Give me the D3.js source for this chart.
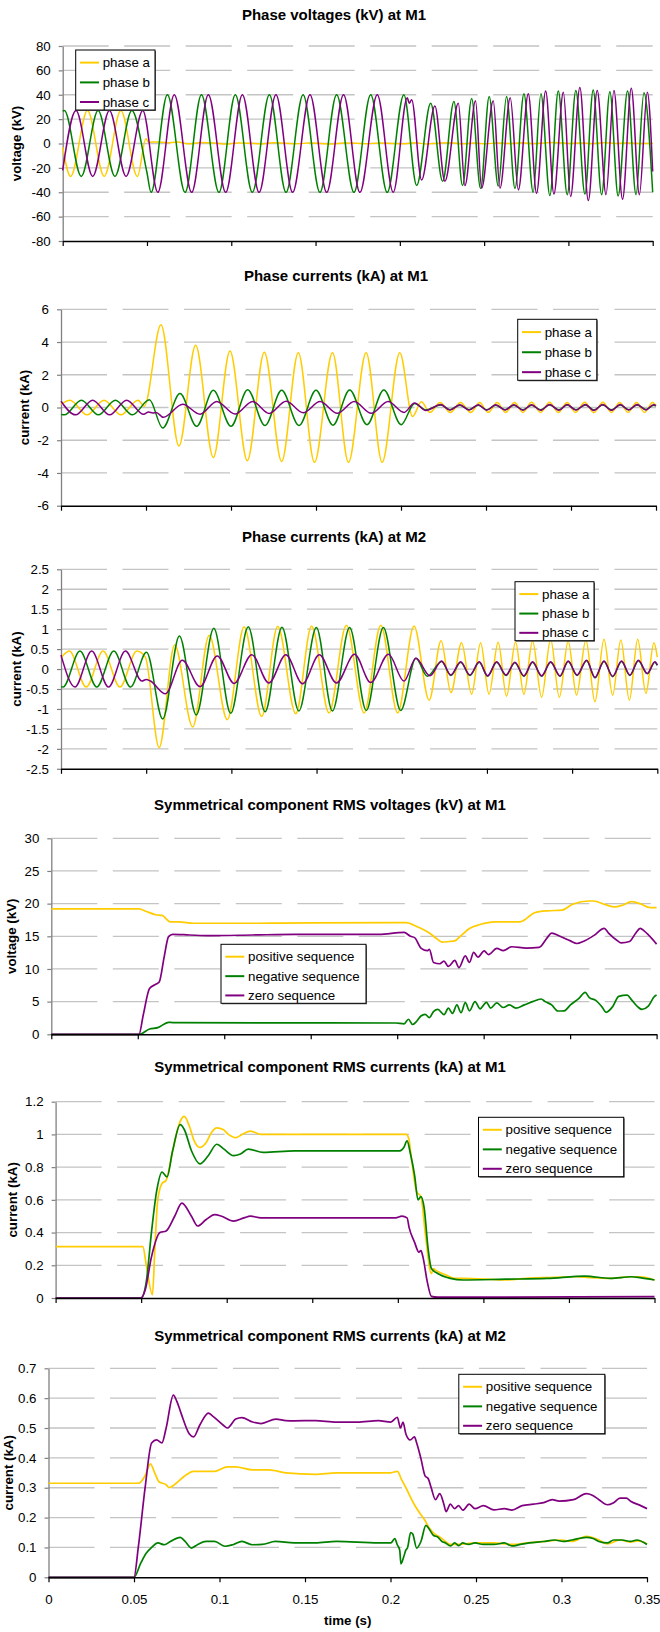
<!DOCTYPE html>
<html><head><meta charset="utf-8">
<script src="https://cdn.jsdelivr.net/npm/d3@7"></script>
<style>
html,body{margin:0;padding:0;background:#fff;}
svg{display:block;font-family:"Liberation Sans",Arial,Helvetica,sans-serif;}
</style></head><body>
<svg id="chart" width="660" height="1632"></svg>
<script>
// ---------- DATA (time in ms, values in kV / kA) ----------
const timeTicks = [0, 0.05, 0.1, 0.15, 0.2, 0.25, 0.3, 0.35];
const timeTickLabels = ["0", "0.05", "0.1", "0.15", "0.2", "0.25", "0.3", "0.35"];

const panelTitles = [
  "Phase voltages (kV) at M1",
  "Phase currents (kA) at M1",
  "Phase currents (kA) at M2",
  "Symmetrical component RMS voltages (kV) at M1",
  "Symmetrical component RMS currents (kA) at M1",
  "Symmetrical component RMS currents (kA) at M2"
];
const yAxisTitles = ["voltage (kV)", "current (kA)", "current (kA)", "voltage (kV)", "current (kA)", "current (kA)"];
const phaseNames = ["phase a", "phase b", "phase c"];
const seqNames = ["positive sequence", "negative sequence", "zero sequence"];

const yTicks1 = [-80, -60, -40, -20, 0, 20, 40, 60, 80];
const yTicks2 = [-6, -4, -2, 0, 2, 4, 6];
const yTicks3 = [-2.5, -2, -1.5, -1, -0.5, 0, 0.5, 1, 1.5, 2, 2.5];
const yTicks4 = [0, 5, 10, 15, 20, 25, 30];
const yTicks5 = [0, 0.2, 0.4, 0.6, 0.8, 1, 1.2];
const yTicks6 = [0, 0.1, 0.2, 0.3, 0.4, 0.5, 0.6, 0.7];

// Panel 1: phase voltages at M1 (extremes of each half cycle)
const p1PhaseA = [[0,-3],[4.7,-27],[14.7,27],[24.6,-27],[34.5,27],[44.3,-27],[49.4,4],[51,1],[56,1.3],[62,0.6],[68,1.2],[75,-0.3],[82,0.8],[90,0.4],[97,-0.5],[104,0.5],[111,0.2],[118,-0.4],[125,0.7],[132,0.2],[139,-0.3],[146,0.5],[153,0.1],[160,-0.4],[167,0.4],[174,0.2],[181,-0.3],[188,0.5],[195,0.1],[202,-0.3],[209,0.6],[216,-0.4],[223,0.3],[230,0.7],[237,-0.2],[244,0.4],[251,-0.3],[258,0.5],[265,0],[272,0.6],[279,-0.2],[286,0.4],[293,0.8],[300,0],[307,0.5],[314,-0.2],[321,0.6],[328,0.1],[335,0.5],[342,-0.1],[350,0.2]];
const p1PhaseB = [[0,26.5],[1,27],[11,-27],[21,27],[31,-27],[41,27],[50,-24],[52.4,-40],[62.1,40],[72.6,-40],[82.3,40],[92.7,-40],[102.4,40],[112.5,-40],[122.6,40],[132.5,-40],[142.6,40],[152.6,-40],[162.5,40],[172.8,-40],[182.7,40],[192.5,-40],[202.4,40],[210,-34.5],[218.3,33],[225.4,-31],[232.1,34.5],[237.2,-34.5],[242.6,37],[247.9,-37],[253,38.6],[258.4,-35],[263.3,38.6],[268.3,-37],[273.6,40.8],[279.1,-40],[283.7,40.8],[289,-42.7],[294,43],[299.3,-42],[304.4,43.5],[309.8,-41.5],[314.7,44],[319.7,-42],[324.6,42.5],[329.5,-43],[335.1,43],[340.1,-42],[344.8,41.6],[350,-40]];
const p1PhaseC = [[0,-22],[7.9,27],[17.8,-27],[27.7,27],[37.6,-27],[47.5,27],[56.4,-40],[66.2,40],[76.5,-40],[86.4,40],[96.7,-40],[106.6,40],[116.5,-40],[126.5,40],[136.4,-40],[146.7,40],[156.6,-40],[166.6,40],[176.3,-40],[186.6,40],[196.1,-40],[204.4,37.5],[205.6,33],[207,36],[212.9,-30],[220.8,30.7],[226.7,-31],[234.7,33],[238.6,-34.5],[244.9,35],[248.5,-36.7],[255.4,35],[259.4,-36.7],[265.5,37.5],[270.3,-38],[276.2,40.8],[281.1,-40.8],[286.5,43],[291.4,-41.4],[297,42],[301.3,-43.5],[306.8,46],[311.8,-46.8],[317.1,43.5],[322.3,-42],[327,43.5],[332.1,-45.7],[337.3,45.4],[342.1,-42],[346.8,42],[350,-23]];

// Panel 2: phase currents at M1
const p2PhaseA = [[0,0.2],[5.3,0.45],[15.3,-0.45],[25.3,0.45],[35.3,-0.45],[45.3,0.45],[49,0.08],[58.8,5.05],[69.4,-2.35],[79.2,3.8],[89.6,-3.05],[99.4,3.45],[109.6,-3.25],[119.6,3.38],[129.8,-3.3],[139.6,3.35],[149.1,-3.35],[159.7,3.35],[169.1,-3.35],[179.5,3.35],[188.9,-3.35],[199.3,3.35],[206.8,-0.55],[212,0.35],[217,-0.3],[223,0.3],[229,-0.3],[235,0.3],[241,-0.3],[246.3,0.3],[251.2,-0.3],[256.6,0.3],[261.5,-0.3],[266.8,0.3],[271.7,-0.3],[276.8,0.32],[282.1,-0.3],[287.4,0.32],[292.5,-0.3],[297.7,0.3],[302.6,-0.3],[308.1,0.32],[313.4,-0.32],[318.7,0.32],[323.8,-0.3],[328.6,0.3],[333.6,-0.3],[338.5,0.3],[343.3,-0.3],[348,0.3],[350,0.1]];
const p2PhaseB = [[0,-0.42],[2,-0.45],[12,0.45],[22,-0.45],[32,0.45],[42,-0.45],[52,0.47],[59.8,-1.25],[70,0.85],[79.8,-1.15],[89.6,1.05],[100,-1.15],[109.8,1.08],[120,-1.1],[129.8,1.05],[140,-1.1],[150,1.05],[160,-1.08],[169.8,1.07],[180,-1.05],[189.9,1.07],[200.1,-1.05],[208,0.25],[214.6,-0.15],[223.4,0.15],[228.8,-0.13],[234.6,0.14],[240,-0.13],[245.5,0.14],[250.4,-0.14],[255.7,0.14],[261.2,-0.13],[266.4,0.14],[271.7,-0.14],[276.8,0.14],[282.1,-0.14],[287.4,0.15],[292.9,-0.14],[297.7,0.15],[302.9,-0.13],[308.5,0.16],[313.4,-0.15],[318.7,0.15],[323.8,-0.14],[329,0.15],[333.9,-0.13],[338.9,0.16],[344.1,-0.12],[348.6,0.14],[350,0.1]];
const p2PhaseC = [[0,0.38],[8.6,-0.45],[18.6,0.45],[28.6,-0.45],[38.6,0.45],[48.6,-0.42],[51.5,-0.28],[54,-0.33],[56,-0.3],[60.2,-0.6],[71.6,0.2],[81.8,-0.41],[91.6,0.37],[102.4,-0.4],[112.7,0.37],[122.5,-0.36],[132.4,0.38],[142.5,-0.32],[152.4,0.36],[162.5,-0.35],[172.5,0.36],[182.5,-0.35],[192.4,0.36],[201.8,-0.3],[208,0.28],[214.6,-0.18],[223.4,0.18],[228.8,-0.16],[234.6,0.17],[240,-0.16],[245.5,0.17],[250.4,-0.17],[255.7,0.17],[261.2,-0.16],[266.4,0.17],[271.7,-0.17],[276.8,0.17],[282.1,-0.17],[287.4,0.18],[292.9,-0.17],[297.7,0.18],[302.9,-0.16],[308.5,0.19],[313.4,-0.18],[318.7,0.18],[323.8,-0.17],[329,0.18],[333.9,-0.16],[338.9,0.19],[344.1,-0.15],[348.6,0.17],[350,0.12]];

// Panel 3: phase currents at M2
const p3PhaseA = [[0,0.28],[4.9,0.45],[14.8,-0.45],[24.7,0.45],[34.6,-0.45],[44.5,0.45],[49.5,0.3],[57.6,-1.97],[66.7,0.6],[77.3,-1.45],[87,0.85],[97.6,-1.27],[107.5,1.06],[117.8,-1.19],[127.2,1.07],[137.8,-1.12],[147.1,1.08],[157.3,-1.1],[167.5,1.1],[177.9,-1.1],[187.7,1.1],[197.6,-1.1],[207.2,1.08],[216.1,-0.78],[223.1,0.71],[228.9,-0.59],[235.1,0.66],[241,-0.63],[246.3,0.66],[251.2,-0.63],[256.6,0.67],[261.5,-0.68],[266.8,0.68],[271.7,-0.63],[276.8,0.7],[282.1,-0.71],[287.4,0.75],[292.5,-0.71],[297.7,0.7],[302.6,-0.65],[308.1,0.73],[313.4,-0.82],[318.7,0.75],[323.8,-0.65],[328.6,0.73],[333.6,-0.78],[338.5,0.75],[343.3,-0.61],[348,0.66],[350,0.3]];
const p3PhaseB = [[0,-0.44],[1.2,-0.45],[11.1,0.45],[21,-0.45],[31,0.45],[40.8,-0.45],[50.2,0.42],[59.7,-1.25],[69.5,0.83],[79.4,-1.15],[89.7,1.02],[99.6,-1.11],[109.9,1.06],[119.8,-1.07],[129.7,1.05],[139.6,-1.05],[149.9,1.04],[159.3,-1.05],[169.4,1.04],[179.2,-1.04],[189.2,1.04],[199.4,-1.04],[208.3,0.27],[215,-0.18],[223.4,0.19],[228.8,-0.16],[234.6,0.17],[240,-0.16],[245.5,0.17],[250.4,-0.18],[255.7,0.17],[261.2,-0.16],[266.4,0.16],[271.7,-0.18],[276.8,0.17],[282.1,-0.18],[287.4,0.17],[292.9,-0.18],[297.7,0.19],[302.9,-0.16],[308.5,0.21],[313.4,-0.22],[318.7,0.19],[323.8,-0.19],[329,0.19],[333.9,-0.16],[338.9,0.21],[344.1,-0.12],[348.6,0.17],[350,0.09]];
const p3PhaseC = [[0,0.35],[8.2,-0.45],[18,0.45],[27.9,-0.45],[37.8,0.45],[47.5,-0.3],[50,-0.26],[52.5,-0.3],[61.3,-0.62],[71.2,0.22],[81.6,-0.44],[91.7,0.33],[101.6,-0.36],[112,0.36],[122,-0.35],[132,0.36],[141.8,-0.37],[151.6,0.36],[161.7,-0.35],[172.3,0.37],[181.8,-0.34],[192.2,0.37],[201.3,-0.3],[208.3,0.27],[216.6,-0.17],[223.4,0.2],[228.8,-0.15],[234.6,0.18],[240,-0.15],[245.5,0.18],[250.4,-0.17],[255.7,0.18],[261.2,-0.15],[266.4,0.17],[271.7,-0.17],[276.8,0.18],[282.1,-0.17],[287.4,0.18],[292.9,-0.17],[297.7,0.2],[302.9,-0.15],[308.5,0.22],[313.4,-0.21],[318.7,0.2],[323.8,-0.18],[329,0.2],[333.9,-0.15],[338.9,0.22],[344.1,-0.11],[348.6,0.18],[350,0.1]];

// Panel 4: symmetrical component RMS voltages at M1
const p4Pos = [[0,19.2],[50.7,19.2],[55,18.8],[60.4,18.3],[64,18.2],[68.9,17.2],[73.8,17.2],[82.3,17],[120,17],[150,17.05],[200.4,17.1],[205.3,17.1],[211.3,16.5],[218.6,15.5],[223.5,14.5],[226,14.1],[230,14.2],[233.3,14.3],[236.9,15.1],[241.8,16.2],[247.9,16.8],[256.4,17.2],[271,17.2],[279.5,18.6],[286.8,18.9],[295.3,19],[301.4,19.9],[311.1,20.4],[313.5,20.4],[320.8,19.8],[325.7,19.5],[330.6,19.8],[335.4,20.3],[340.3,20],[346.4,19.4],[350,19.4]];
const p4Neg = [[0,0],[51,0],[56.8,0.82],[61.6,1.02],[67.8,1.84],[70.2,1.8],[120,1.75],[199.2,1.73],[204,1.6],[206.5,2.3],[208.9,1.5],[211.3,2],[213.7,2.8],[216.2,3.06],[218.6,2.55],[221,3.47],[223.5,3.8],[227.1,3],[229.6,4],[232,3.2],[234.5,4.5],[236.9,3.3],[239.4,4.85],[241.8,3.6],[245,5],[247.9,3.9],[251.6,4.9],[254,4],[257.6,4.8],[261.3,4.1],[264.9,4.5],[268.6,4],[273.5,4.5],[278.3,5],[283.2,5.4],[285.6,5],[289.3,4.5],[292.9,3.57],[296.6,3.6],[300.2,4.5],[305.1,5.5],[308.7,6.43],[311.1,5.6],[314.8,5.2],[318.4,4.2],[320.8,3.37],[324.5,4.2],[328.1,5.8],[333,6],[335.4,5.3],[339.1,4.2],[341.5,3.8],[345.2,4.3],[348.8,5.8],[350,6]];
const p4Zero = [[0,0],[50.7,0],[53.2,3],[56.8,7],[60.4,7.65],[62.4,8],[65.3,11.9],[67.8,14.95],[70.2,15.3],[79.9,15.2],[92.1,15.1],[116.4,15.2],[140.7,15.3],[189.4,15.3],[204,15.6],[207.7,15],[210.1,14.8],[213.7,13.2],[217.4,12.8],[218.6,13],[221,11],[224.7,10.8],[227,11.2],[229.6,10.4],[233.3,11.3],[235.7,10.2],[239.4,12],[241.8,11],[244.2,12.55],[246.7,11.8],[250.3,12.76],[252.8,12.2],[257.6,13.16],[261.3,12.8],[266.2,13.4],[274.7,13.2],[282,13.3],[286.8,14.8],[289.3,15.5],[294.1,15],[300.2,14.3],[303.9,13.9],[307.5,14.2],[313.6,15.1],[319.7,16.2],[322.2,15.5],[327,14.4],[329.5,14],[334.3,14.2],[338,15.5],[340.5,16.2],[342.9,15.8],[347.8,14.5],[350,13.8]];

// Panel 5: symmetrical component RMS currents at M1
const p5Pos = [[0,0.314],[51,0.314],[53,0.2],[56.6,0.02],[58,0.3],[59.7,0.6],[62.2,0.7],[64.6,0.72],[68.4,0.9],[72.8,1.08],[75.2,1.11],[78.2,1.05],[81,0.96],[84.3,0.92],[88,0.95],[91,1.01],[94.2,1.04],[97.9,1.03],[101,1],[105.2,0.98],[109,1],[113.9,1.02],[120,1],[150,1],[180,1],[200,1],[204.9,1],[206.5,0.97],[207.4,0.9],[211,0.65],[213.5,0.62],[216,0.4],[219.6,0.15],[220.9,0.18],[222.1,0.17],[228.2,0.14],[233.2,0.12],[238.1,0.12],[262.7,0.11],[275,0.12],[287.3,0.125],[304.5,0.13],[311.9,0.125],[324.2,0.12],[335.3,0.13],[341.5,0.13],[350,0.11]];
const p5Neg = [[0,0],[49.9,0],[53,0.1],[56,0.4],[59,0.65],[62.2,0.77],[65.1,0.74],[68.4,0.9],[72.8,1.06],[75.2,1.03],[79.4,0.9],[84.3,0.82],[89.2,0.87],[94.2,0.94],[98.4,0.91],[104,0.87],[108,0.88],[112.6,0.91],[121.3,0.89],[139.7,0.9],[170,0.9],[201.2,0.9],[203.5,0.92],[205.4,0.96],[207.4,0.88],[209.8,0.75],[211.8,0.6],[213.5,0.62],[215.4,0.55],[217.7,0.3],[219.6,0.18],[223.3,0.15],[230.7,0.12],[238.1,0.11],[262.7,0.115],[287.3,0.12],[309.4,0.134],[324.2,0.12],[336.5,0.13],[341.5,0.125],[350,0.11]];
const p5Zero = [[0,0],[49.9,0],[52.4,0.05],[56,0.25],[61,0.4],[64.6,0.41],[69.6,0.5],[73.8,0.58],[79.4,0.5],[83,0.44],[88,0.48],[93,0.51],[97,0.5],[104,0.47],[110.1,0.49],[113.9,0.5],[120,0.49],[139.7,0.49],[198.7,0.49],[202.4,0.5],[205.4,0.49],[206.6,0.43],[209.8,0.34],[212.3,0.28],[213.5,0.29],[214.7,0.25],[217.2,0.1],[219.6,0.01],[223.3,0.005],[350,0.008]];

// Panel 6: symmetrical component RMS currents at M2
const p6Pos = [[0,0.315],[52.7,0.315],[56.5,0.34],[59.6,0.38],[62.1,0.35],[64.6,0.32],[68.8,0.31],[70.5,0.3],[73.6,0.31],[79.8,0.34],[84.8,0.355],[97.3,0.355],[104.6,0.37],[109.5,0.37],[119.4,0.36],[129,0.36],[138.7,0.35],[156,0.345],[168.3,0.35],[192.9,0.35],[200.2,0.35],[204,0.355],[206.5,0.327],[209,0.3],[214,0.243],[217.7,0.21],[220.2,0.19],[222.7,0.165],[226.3,0.143],[228.8,0.135],[232.2,0.12],[235,0.11],[240,0.11],[250,0.115],[260,0.115],[271,0.11],[280,0.115],[290,0.12],[300,0.125],[306,0.12],[314.5,0.137],[321.9,0.125],[326.8,0.112],[334.2,0.125],[340,0.118],[345,0.122],[350,0.112]];
const p6Neg = [[0,0],[50,0],[54,0.048],[57,0.08],[60.3,0.1],[64,0.115],[67.7,0.109],[71.3,0.12],[77,0.134],[79.9,0.12],[83.6,0.098],[87.3,0.11],[92.2,0.12],[97.1,0.12],[103.3,0.104],[108.2,0.11],[113.1,0.12],[119.3,0.109],[125,0.11],[132.7,0.12],[143.7,0.115],[156,0.115],[168.3,0.12],[192.9,0.115],[200.2,0.115],[202.5,0.13],[203.9,0.11],[205.4,0.09],[206.1,0.045],[207.8,0.07],[208.9,0.09],[210,0.1],[211.8,0.15],[213,0.145],[215.3,0.098],[217.8,0.12],[220.7,0.174],[222.2,0.165],[225.2,0.14],[227.6,0.135],[230.1,0.12],[232.2,0.115],[235.1,0.105],[237.5,0.115],[240,0.106],[242.1,0.115],[245.7,0.11],[249.4,0.115],[254.3,0.11],[260.5,0.11],[266.6,0.115],[271,0.105],[276,0.11],[281,0.115],[289.6,0.12],[296,0.125],[301,0.12],[306,0.125],[314.5,0.134],[318.5,0.13],[321.9,0.12],[326.8,0.115],[330.5,0.125],[335.4,0.125],[340.4,0.12],[344,0.125],[350,0.11]];
const p6Zero = [[0,0],[50,0],[52.5,0.1],[56.5,0.3],[60.3,0.45],[63.2,0.46],[66.3,0.45],[68.8,0.5],[73,0.61],[75,0.59],[77.5,0.55],[82.4,0.48],[84.8,0.47],[88.5,0.51],[93.5,0.55],[96,0.54],[102.1,0.51],[104.5,0.5],[109.5,0.53],[113,0.535],[119.4,0.52],[124.3,0.515],[133,0.53],[138.8,0.525],[143.7,0.524],[156,0.525],[168.3,0.52],[180.6,0.52],[192.9,0.525],[200.2,0.52],[204,0.536],[205.8,0.5],[207.3,0.52],[209,0.48],[211.5,0.46],[214,0.47],[215.3,0.45],[217.7,0.4],[220.2,0.34],[222.1,0.33],[223.8,0.3],[226.3,0.26],[228.8,0.28],[231.2,0.245],[232.5,0.22],[235,0.245],[237.5,0.23],[239.8,0.24],[242.3,0.225],[246,0.245],[249.4,0.23],[254.3,0.24],[260.5,0.226],[266.6,0.23],[271,0.225],[277,0.24],[283.5,0.245],[289.6,0.25],[294.6,0.26],[298.6,0.255],[307,0.26],[314.5,0.28],[318,0.275],[321.9,0.26],[326.8,0.243],[330.5,0.25],[334.2,0.265],[337.9,0.265],[340.4,0.255],[346.3,0.24],[350,0.23]];

// ---------- STYLE / LAYOUT ----------
const colors = ["#FFCC00", "#008000", "#800080"];
const layout = [
  {x0:62.7, x1:652.7, yTop:46,    yBot:241,    tx:334, ty:15,   lx:16.8, legend:[75.7,50,79.3,60]},
  {x0:61,   x1:656,   yTop:309.3, yBot:505.7,  tx:336, ty:276,  lx:24.3, legend:[517.7,319.3,79.1,61]},
  {x0:61,   x1:657.3, yTop:569.3, yBot:768.8,  tx:334, ty:537,  lx:16,   legend:[515,581.7,79,59]},
  {x0:51.3, x1:656.6, yTop:838.3, yBot:1034.3, tx:330, ty:805,  lx:11,   legend:[221,944.3,145,59]},
  {x0:55.6, x1:654.5, yTop:1101.7,yBot:1298,   tx:330, ty:1067, lx:12.6, legend:[478.5,1117.3,145.2,59.4]},
  {x0:48.5, x1:647,   yTop:1368.3,yBot:1577.3, tx:330, ty:1336, lx:8,    legend:[458.8,1374.3,146,59.4]}
];
const panels = [
  {ticks:yTicks1, series:[p1PhaseA,p1PhaseB,p1PhaseC], names:phaseNames},
  {ticks:yTicks2, series:[p2PhaseA,p2PhaseB,p2PhaseC], names:phaseNames},
  {ticks:yTicks3, series:[p3PhaseA,p3PhaseB,p3PhaseC], names:phaseNames},
  {ticks:yTicks4, series:[p4Pos,p4Neg,p4Zero], names:seqNames},
  {ticks:yTicks5, series:[p5Pos,p5Neg,p5Zero], names:seqNames},
  {ticks:yTicks6, series:[p6Pos,p6Neg,p6Zero], names:seqNames}
];

const svg = d3.select("#chart");
svg.append("rect").attr("width",660).attr("height",1632).attr("fill","#fff");

panels.forEach((p, i) => {
  const L = layout[i];
  const x = d3.scaleLinear().domain([0, 0.35]).range([L.x0, L.x1]);
  const y = d3.scaleLinear().domain([p.ticks[0], p.ticks[p.ticks.length-1]]).range([L.yBot, L.yTop]);
  const g = svg.append("g");

  // gridlines
  g.append("g").selectAll("line").data(p.ticks.slice(1)).join("line")
    .attr("x1", L.x0).attr("x2", L.x1)
    .attr("y1", d => y(d)).attr("y2", d => y(d))
    .attr("stroke", "#c4c4c4").attr("stroke-width", 1.3)
    .attr("stroke-dasharray", "46 15.5");

  // y axis
  const ya = g.append("g").attr("transform", `translate(${L.x0},0)`)
    .call(d3.axisLeft(y).tickValues(p.ticks).tickSize(4).tickSizeOuter(0).tickPadding(8).tickFormat(d => String(d)));
  ya.select(".domain").attr("stroke", "#808080").attr("stroke-width", 1.3);
  ya.selectAll(".tick line").attr("stroke", "#808080").attr("stroke-width", 1.2);
  ya.selectAll("text").attr("font-size", "13.3px").attr("fill", "#000")
    .attr("font-family", "'Liberation Sans', Arial, sans-serif");

  // series
  const line = d3.line().curve(d3.curveMonotoneX)
    .x(d => x(d[0] / 1000)).y(d => y(d[1]));
  p.series.forEach((s, k) => {
    g.append("path").datum(s).attr("d", line)
      .attr("fill", "none").attr("stroke", colors[k])
      .attr("stroke-width", i < 3 ? 1.5 : 1.7).attr("stroke-linejoin", "round");
  });

  // x axis
  const xa = g.append("g").attr("transform", `translate(0,${L.yBot})`)
    .call(d3.axisBottom(x).tickValues(timeTicks).tickSize(5).tickSizeOuter(0).tickPadding(12)
      .tickFormat((d, k) => i === 5 ? timeTickLabels[k] : ""));
  xa.select(".domain").attr("stroke", "#000").attr("stroke-width", 1.5);
  xa.selectAll(".tick line").attr("stroke", "#000").attr("stroke-width", 1.2);
  xa.selectAll("text").attr("font-size", "13.3px").attr("fill", "#000")
    .attr("font-family", "'Liberation Sans', Arial, sans-serif");

  // title
  svg.append("text").attr("x", L.tx).attr("y", L.ty).attr("dy", "0.35em")
    .attr("text-anchor", "middle").attr("font-weight", "bold").attr("font-size", "15px")
    .text(panelTitles[i]);

  // y axis title
  svg.append("text")
    .attr("transform", `translate(${L.lx},${(L.yTop + L.yBot) / 2}) rotate(-90)`)
    .attr("dy", "0.35em").attr("text-anchor", "middle")
    .attr("font-weight", "bold").attr("font-size", "13.3px")
    .text(yAxisTitles[i]);

  // legend
  const [bx, by, bw, bh] = L.legend;
  const lg = svg.append("g");
  lg.append("rect").attr("x", bx + 1).attr("y", by + 1).attr("width", bw).attr("height", bh)
    .attr("fill", "#666");
  lg.append("rect").attr("x", bx).attr("y", by).attr("width", bw).attr("height", bh)
    .attr("fill", "#fff").attr("stroke", "#000").attr("stroke-width", 1);
  const rows = [12.6, 32.4, 52];
  p.names.forEach((n, k) => {
    const ry = by + rows[k] * bh / 60;
    lg.append("line").attr("x1", bx + 4.3).attr("x2", bx + 23.3).attr("y1", ry).attr("y2", ry)
      .attr("stroke", colors[k]).attr("stroke-width", 2);
    lg.append("text").attr("x", bx + 27).attr("y", ry).attr("dy", "0.35em")
      .attr("font-size", "13.3px").text(n);
  });
});

// x axis title
svg.append("text").attr("x", (layout[5].x0 + layout[5].x1) / 2).attr("y", 1620).attr("dy", "0.35em")
  .attr("text-anchor", "middle").attr("font-weight", "bold").attr("font-size", "13.3px")
  .text("time (s)");
</script></body></html>
